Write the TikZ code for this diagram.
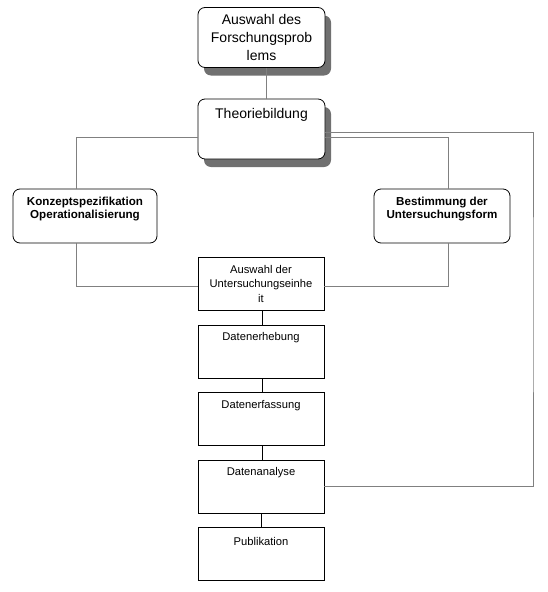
\documentclass[tikz,border=0pt]{standalone}
\usepackage{fontspec}
\setmainfont{Liberation Sans}
\usetikzlibrary{shadows}
\begin{document}
\begin{tikzpicture}[x=1pt,y=-1pt,
  rbox/.style={draw=black, line width=0.8pt, rounded corners=7pt, fill=white, inner sep=0pt},
  shbox/.style={rbox, drop shadow={shadow xshift=6pt, shadow yshift=-8pt, fill=black!56, opacity=1}},
  sbox/.style={draw=black, line width=0.8pt, fill=white, inner sep=0pt, minimum width=126pt, minimum height=53pt},
  gline/.style={draw=black!50, line width=0.9pt},
  bline/.style={draw=black, line width=0.8pt},
  bigtxt/.style={font=\fontsize{14}{18}\selectfont, align=center},
  smalltxt/.style={font=\fontsize{11.2}{14.5}\selectfont, align=center},
  boldtxt/.style={font=\fontsize{11.6}{13}\selectfont\bfseries, align=center}
]
\useasboundingbox (0,0) rectangle (548,592);
\fill[white] (0,0) rectangle (548,592);

% top boxes
\node[shbox, minimum width=127pt, minimum height=60pt, bigtxt] (prob) at (261.5,37.5) {Auswahl des\\Forschungsprob\\lems};
\node[shbox, minimum width=127pt, minimum height=60pt] (theo) at (261.5,129) {};
\node[bigtxt, anchor=center] (theot) at (261.5,115) {Theoriebildung};

% middle rounded boxes
\node[rbox, minimum width=144pt, minimum height=54pt] (konz) at (85,216) {};
\node[boldtxt] (konzt) at (85,209) {Konzeptspezifikation\\Operationalisierung};
\node[rbox, minimum width=136pt, minimum height=54pt] (best) at (442,216) {};
\node[boldtxt] (bestt) at (442,209) {Bestimmung der\\Untersuchungsform};

% lower square boxes
\node[sbox, smalltxt] (aus) at (261,283.5) {Auswahl der\\Untersuchungseinhe\\it};
\node[sbox] (erh) at (261,351.5) {};
\node[smalltxt] (erht) at (261,338) {Datenerhebung};
\node[sbox] (erf) at (261,419) {};
\node[smalltxt] (erft) at (261,406) {Datenerfassung};
\node[sbox] (ana) at (261,486.5) {};
\node[smalltxt] (anat) at (261,473) {Datenanalyse};
\node[sbox] (pub) at (261,554) {};
\node[smalltxt] (pubt) at (261,541) {Publikation};

\coordinate (fb) at (533,300);

% connectors
\draw[gline] ([xshift=5pt]prob.south) -- ([xshift=5pt]theo.north);
\draw[gline] ([yshift=-8pt]theo.west) -| ([xshift=-9pt]konz.north);
\draw[gline] ([yshift=-8pt]theo.east) -| ([xshift=6pt]best.north);
\draw[gline] ([yshift=-3pt]theo.east) -| (fb) |- (ana.east);
\draw[gline] ([xshift=-9pt]konz.south) |- ([yshift=-2.5pt]aus.west);
\draw[gline] ([xshift=6pt]best.south) |- ([yshift=-2.5pt]aus.east);
\draw[bline] ([xshift=1pt]aus.south) -- ([xshift=1pt]erh.north);
\draw[bline] ([xshift=1pt]erh.south) -- ([xshift=1pt]erf.north);
\draw[bline] ([xshift=1pt]erf.south) -- ([xshift=1pt]ana.north);
\draw[bline] (ana.south) -- (pub.north);
\end{tikzpicture}
\end{document}
